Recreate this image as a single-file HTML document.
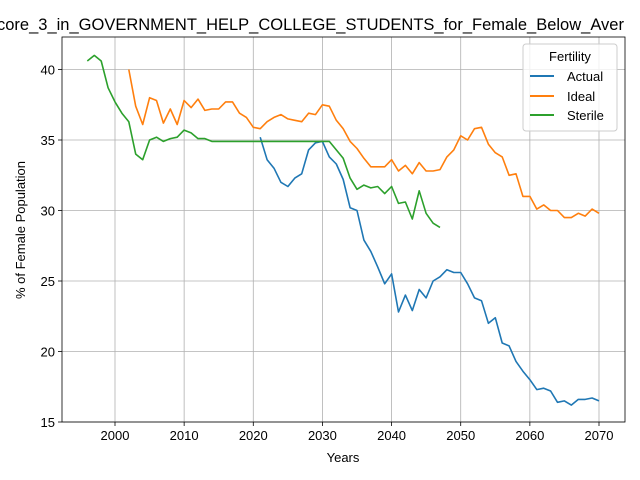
<!DOCTYPE html>
<html><head><meta charset="utf-8"><style>body{margin:0;background:#fff}svg{display:block;font-family:"Liberation Sans","DejaVu Sans",sans-serif}</style></head>
<body>
<svg id="chart" width="640" height="480" viewBox="0 0 640 480">
<text x="-3" y="30" font-size="16.5" fill="#000">core_3_in_GOVERNMENT_HELP_COLLEGE_STUDENTS_for_Female_Below_Aver</text>
<g id="grid"></g><g id="series"></g><g id="axes"></g>
<text x="343" y="462" font-size="13" text-anchor="middle">Years</text>
<text transform="translate(25,230) rotate(-90)" font-size="13" text-anchor="middle">% of Female Population</text>
<g>
<rect x="523" y="44" width="94" height="87" rx="3" fill="#fff" fill-opacity="0.8" stroke="#ccc"/>
<text x="570" y="61" font-size="13" text-anchor="middle">Fertility</text>
<g><line x1="530" x2="554" y1="76" y2="76" stroke="#1f77b4" stroke-width="2"/><text x="567" y="81" font-size="13">Actual</text></g>
<g><line x1="530" x2="554" y1="96" y2="96" stroke="#ff7f0e" stroke-width="2"/><text x="567" y="101" font-size="13">Ideal</text></g>
<g><line x1="530" x2="554" y1="115" y2="115" stroke="#2ca02c" stroke-width="2"/><text x="567" y="120" font-size="13">Sterile</text></g>
</g>
</svg>
<script>
const xTicks=[2000,2010,2020,2030,2040,2050,2060,2070];
const yTicks=[15,20,25,30,35,40];
const sterileStart=1996;
const sterile=[40.6,41.0,40.6,38.7,37.7,36.9,36.3,34.0,33.6,35.0,35.2,34.9,35.1,35.2,35.7,35.5,35.1,35.1,34.9,34.9,34.9,34.9,34.9,34.9,34.9,34.9,34.9,34.9,34.9,34.9,34.9,34.9,34.9,34.9,34.9,34.9,34.3,33.7,32.3,31.5,31.8,31.6,31.7,31.2,31.7,30.5,30.6,29.4,31.4,29.8,29.1,28.8];
const idealStart=2002;
const ideal=[40.0,37.4,36.1,38.0,37.8,36.2,37.2,36.1,37.8,37.3,37.9,37.1,37.2,37.2,37.7,37.7,36.9,36.6,35.9,35.8,36.3,36.6,36.8,36.5,36.4,36.3,36.9,36.8,37.5,37.4,36.4,35.8,34.9,34.4,33.7,33.1,33.1,33.1,33.6,32.8,33.2,32.6,33.4,32.8,32.8,32.9,33.8,34.3,35.3,35.0,35.8,35.9,34.7,34.1,33.8,32.5,32.6,31.0,31.0,30.1,30.4,30.0,30.0,29.5,29.5,29.8,29.6,30.1,29.8];
const actualStart=2021;
const actual=[35.2,33.6,33.0,32.0,31.7,32.3,32.6,34.3,34.8,34.9,33.8,33.3,32.2,30.2,30.0,27.9,27.1,26.0,24.8,25.5,22.8,24.0,22.9,24.4,23.8,25.0,25.3,25.8,25.6,25.6,24.8,23.8,23.6,22.0,22.4,20.6,20.4,19.3,18.6,18.0,17.3,17.4,17.2,16.4,16.5,16.2,16.6,16.6,16.7,16.5];
const L=62,R=625,T=37,B=422;
const xs=v=>115+(v-2000)*(599-115)/70;
const ys=v=>422-(v-15)*(422-69.5)/25;
const NS="http://www.w3.org/2000/svg";
function mk(t,a,p){const e=document.createElementNS(NS,t);for(const k in a)e.setAttribute(k,a[k]);p.appendChild(e);return e;}
const grid=document.getElementById('grid'),axes=document.getElementById('axes'),ser=document.getElementById('series');
xTicks.forEach(t=>{const x=xs(t);
const g=mk('line',{x1:x,x2:x,y1:T,y2:B,stroke:'#b0b0b0','stroke-width':0.8},grid);


mk('line',{x1:x,x2:x,y1:B,y2:B+4,stroke:'#000','stroke-width':0.8},axes);
const tx=mk('text',{x:x,y:B+18,'font-size':13,'text-anchor':'middle'},axes);tx.textContent=t;

});
yTicks.forEach(t=>{const y=ys(t);
const g=mk('line',{x1:L,x2:R,y1:y,y2:y,stroke:'#b0b0b0','stroke-width':0.8},grid);


mk('line',{x1:L-4,x2:L,y1:y,y2:y,stroke:'#000','stroke-width':0.8},axes);
const tx=mk('text',{x:L-7,y:y+5,'font-size':13,'text-anchor':'end'},axes);tx.textContent=t;

});
const fr=mk('rect',{x:L,y:T,width:R-L,height:B-T,fill:'none',stroke:'#000','stroke-width':0.8},axes);


function line(arr,start,color,name){const p=arr.map((v,i)=>xs(start+i).toFixed(1)+','+ys(v).toFixed(1)).join(' ');
const pl=mk('polyline',{points:p,fill:'none',stroke:color,'stroke-width':1.6,'stroke-linejoin':'round'},ser);

}
line(actual,actualStart,'#1f77b4','actual-line');
line(ideal,idealStart,'#ff7f0e','ideal-line');
line(sterile,sterileStart,'#2ca02c','sterile-line');
</script>
</body></html>
